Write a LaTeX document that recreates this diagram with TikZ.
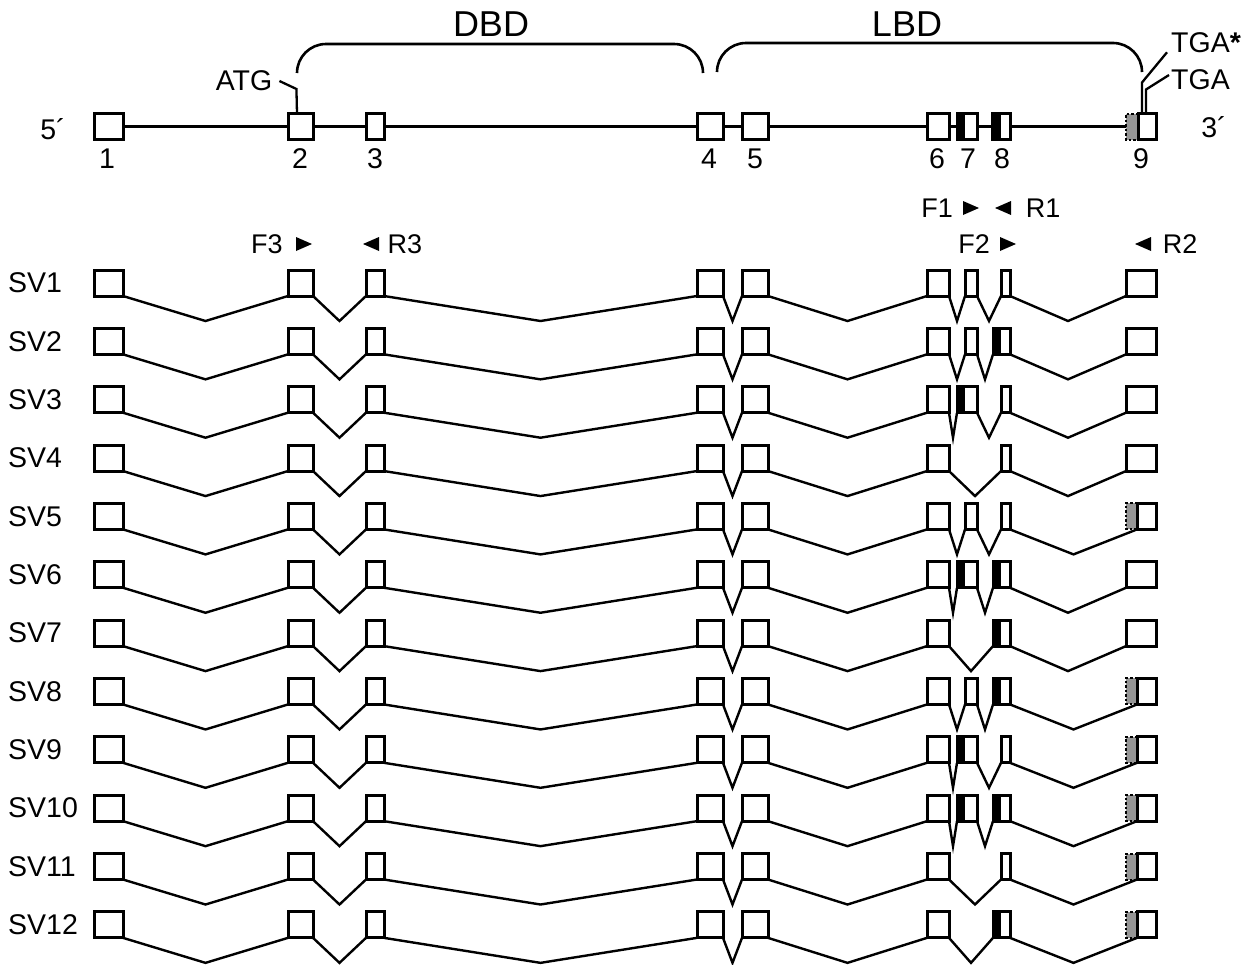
\documentclass[tikz,border=0pt]{standalone}
\usepackage{fontspec}
\setmainfont{Liberation Sans}
\usetikzlibrary{calc}
\definecolor{grayfill}{RGB}{150,150,150}
\tikzset{
 exon/.style={draw, line width=3pt, fill=white, minimum height=26pt, inner sep=0pt, outer sep=0pt},
 blk/.style={path picture={\fill[black] (path picture bounding box.north west) rectangle ([xshift=#1]path picture bounding box.south west);}},
 graybox/.style={fill=grayfill, draw=none, minimum height=26pt, inner sep=0pt, outer sep=0pt},
 dots/.style={line width=2pt, dash pattern=on 2.5pt off 2pt},
 intr/.style={line width=2.4pt},
 gene/.style={line width=2.6pt},
 lead/.style={line width=2.3pt},
 brc/.style={line width=2.6pt},
 lab/.style={font=\fontsize{28.5}{30}\selectfont, inner sep=0pt},
 big/.style={font=\fontsize{36}{38}\selectfont, inner sep=0pt},
 plab/.style={font=\fontsize{27}{29}\selectfont, inner sep=0pt},
 tri/.style={fill=black},
}
\newcommand\intron[2]{\draw[intr] (#1.south east) -- ($(#1.south east)!0.5!(#2.south west)+(0,25)$) -- (#2.south west);}
\newcommand\svrow[5]{%
 \pgfmathsetmacro\yc{283+(#1-1)*58.35}%
 \node[lab,anchor=west] (sv#1) at (8,\yc) {#2};
 \node[exon,minimum width=29pt] (r#1a) at (108.5,\yc) {};
 \node[exon,minimum width=25pt] (r#1b) at (300.5,\yc) {};
 \node[exon,minimum width=18pt] (r#1c) at (375,\yc) {};
 \node[exon,minimum width=26pt] (r#1d) at (710,\yc) {};
 \node[exon,minimum width=26pt] (r#1e) at (755,\yc) {};
 \node[exon,minimum width=22pt] (r#1f) at (938,\yc) {};
 \ifcase#3\relax\or
   \node[exon,minimum width=12pt] (r#1g) at (971,\yc) {};\or
   \node[exon,minimum width=20pt,blk=8pt] (r#1g) at (967,\yc) {};\fi
 \ifcase#4\relax\or
   \node[exon,minimum width=9pt] (r#1h) at (1005.5,\yc) {};\or
   \node[exon,minimum width=17pt,blk=8pt] (r#1h) at (1001.5,\yc) {};\fi
 \ifcase#5\relax
   \node[exon,minimum width=30pt] (r#1i) at (1141,\yc) {};\or
   \node[graybox,minimum width=11pt] (r#1j) at (1131.5,\yc) {};
   \draw[dots] (r#1j.north east) -- (r#1j.north west) -- (r#1j.south west) -- (r#1j.south east);
   \node[exon,minimum width=19pt] (r#1i) at (1146.5,\yc) {};\fi
 \intron{r#1a}{r#1b}\intron{r#1b}{r#1c}\intron{r#1c}{r#1d}\intron{r#1d}{r#1e}\intron{r#1e}{r#1f}
 \ifnum#3=0 \intron{r#1f}{r#1h}\else\intron{r#1f}{r#1g}\intron{r#1g}{r#1h}\fi
 \intron{r#1h}{r#1i}
}
\begin{document}
\begin{tikzpicture}[x=1pt,y=-1pt]
\useasboundingbox[fill=white] (0,0) rectangle (1247,964);
% top gene structure
\node[exon,minimum width=29pt] (t1) at (108.5,126.5) {};
\node[exon,minimum width=25pt] (t2) at (300.5,126.5) {};
\node[exon,minimum width=18pt] (t3) at (375,126.5) {};
\node[exon,minimum width=26pt] (t4) at (710,126.5) {};
\node[exon,minimum width=26pt] (t5) at (755,126.5) {};
\node[exon,minimum width=22pt] (t6) at (938,126.5) {};
\node[exon,minimum width=20pt,blk=8pt] (t7) at (967,126.5) {};
\node[exon,minimum width=18pt,blk=8pt] (t8) at (1001.5,126.5) {};
\node[graybox,minimum width=12pt] (t9g) at (1132,126.5) {};
\draw[dots] (t9g.north east) -- (t9g.north west) -- (t9g.south west) -- (t9g.south east);
\node[exon,minimum width=18pt] (t9) at (1147,126.5) {};
\draw[gene] (t1.east) -- (t2.west) (t2.east) -- (t3.west) (t3.east) -- (t4.west)
  (t4.east) -- (t5.west) (t5.east) -- (t6.west) (t6.east) -- (t7.west)
  (t7.east) -- (t8.west) (t8.east) -- (t9g.west);
\node[lab] (p5) at (53,129) {5´};
\node[lab] (p3) at (1214,127) {3´};
\node[lab] (n1) at (107,159) {1};
\node[lab] (n2) at (300,159) {2};
\node[lab] (n3) at (375,159) {3};
\node[lab] (n4) at (709,159) {4};
\node[lab] (n5) at (755,159) {5};
\node[lab] (n6) at (937,159) {6};
\node[lab] (n7) at (968,159) {7};
\node[lab] (n8) at (1002,159) {8};
\node[lab] (n9) at (1141,159) {9};
% domains
\node[big] (dbd) at (491,24.5) {DBD};
\node[big] (lbd) at (907,24.5) {LBD};
\draw[brc] (297,73) .. controls (297,57) and (310,44) .. (326,44) -- (674,44) .. controls (690,44) and (703,57) .. (703,73);
\draw[brc] (717,72) .. controls (717,56) and (730,43) .. (746,43) -- (1113,43) .. controls (1129,43) and (1142,56) .. (1142,72);
% ATG / TGA
\node[lab] (atg) at (244,81) {ATG};
\draw[lead] ([xshift=7pt]atg.east) -- ++(17,8) -- ([xshift=-3.5pt]t2.north);
\node[lab,anchor=west] (tgas) at (1171,43) {TGA\textbf{*}};
\node[lab,anchor=west] (tga) at (1171,80) {TGA};
\draw[lead] ([xshift=-5pt]t9.north) -- ++(0,-31) -- ([xshift=-4pt,yshift=1pt]tgas.south west);
\draw[lead] ([xshift=-1pt]t9.north) -- ++(0,-24) -- ([xshift=-2pt,yshift=5pt]tga.west);
% primers
\node[plab] (f3) at (267,244) {F3};
\fill[tri] (296,237) -- (312,244) -- (296,251) -- cycle;
\fill[tri] (379,237) -- (363,244) -- (379,251) -- cycle;
\node[plab] (r3) at (405,244) {R3};
\node[plab] (f1) at (937,208) {F1};
\fill[tri] (963,201) -- (979,208) -- (963,215) -- cycle;
\fill[tri] (1011,201) -- (995,208) -- (1011,215) -- cycle;
\node[plab] (r1) at (1043,208) {R1};
\node[plab] (f2) at (974,244) {F2};
\fill[tri] (1000,237) -- (1016,244) -- (1000,251) -- cycle;
\fill[tri] (1151,237) -- (1135,244) -- (1151,251) -- cycle;
\node[plab] (r2) at (1180,244) {R2};
% splice variants
\svrow{1}{SV1}{1}{1}{0}
\svrow{2}{SV2}{1}{2}{0}
\svrow{3}{SV3}{2}{1}{0}
\svrow{4}{SV4}{0}{1}{0}
\svrow{5}{SV5}{1}{1}{1}
\svrow{6}{SV6}{2}{2}{0}
\svrow{7}{SV7}{0}{2}{0}
\svrow{8}{SV8}{1}{2}{1}
\svrow{9}{SV9}{2}{1}{1}
\svrow{10}{SV10}{2}{2}{1}
\svrow{11}{SV11}{0}{1}{1}
\svrow{12}{SV12}{0}{2}{1}
\end{tikzpicture}
\end{document}
